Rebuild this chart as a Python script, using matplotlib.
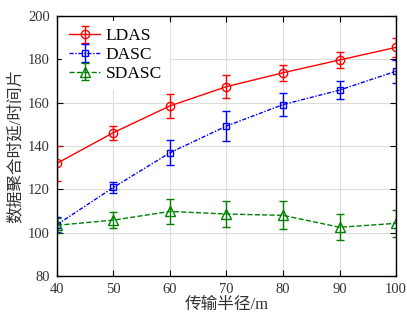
import numpy as np
import matplotlib.pyplot as plt

plt.rcParams['font.family'] = ['Liberation Serif', 'Noto Sans CJK SC']

# data
radius = [40, 50, 60, 70, 80, 90, 100]
ldas = [132.0, 146.2, 158.5, 167.4, 173.8, 179.7, 185.5]
ldas_err = [8.0, 3.2, 5.4, 5.3, 3.6, 3.9, 4.3]
dasc = [103.7, 120.9, 136.9, 149.2, 159.1, 165.8, 174.5]
dasc_err = [3.4, 2.6, 5.7, 7.0, 5.2, 4.3, 5.4]
sdasc = [103.4, 105.8, 109.8, 108.6, 108.0, 102.5, 104.3]
sdasc_err = [3.4, 3.7, 5.8, 5.8, 6.5, 5.9, 6.1]

fig = plt.figure(figsize=(4.07, 3.2), dpi=100)
ax = fig.add_axes([0.140, 0.1375, 0.833, 0.8125])

ax.errorbar(radius, ldas, yerr=ldas_err, color='#ff0000', ls='-', lw=1.0,
            marker='o', ms=6, mfc='none', mew=1.0, capsize=3, elinewidth=1.0,
            label='LDAS')
eb = ax.errorbar(radius, dasc, yerr=dasc_err, color='#0000ff', ls='-.', lw=1.0,
                 marker='s', ms=5, mfc='none', mew=1.0, capsize=3, elinewidth=1.0,
                 label='DASC')
eb[0].set_dashes([3, 1.2, 1, 1.2])
ax.errorbar(radius, sdasc, yerr=sdasc_err, color='#008000', ls='--', lw=1.0,
            marker='^', ms=7, mfc='none', mew=1.0, capsize=3, elinewidth=1.0,
            label='SDASC')

ax.set_xlim(40, 100)
ax.set_ylim(80, 200)
ax.set_xticks(radius)
ax.set_yticks(np.arange(80, 201, 20))
ax.tick_params(direction='in', labelsize=10.5, labelcolor='#333333', length=4,
               top=True, right=True, pad=5)
ax.grid(True, color='#dcdcdc', lw=0.8)
ax.set_axisbelow(True)
for s in ax.spines.values():
    s.set_linewidth(1.0)

ax.set_xlabel('传输半径/m', fontsize=12, color='#333333', labelpad=1)
ax.set_ylabel('数据聚合时延/时间片', fontsize=12, color='#333333', labelpad=3)

leg = ax.legend(loc='upper left', fontsize=12.5, frameon=True, fancybox=False,
                handlelength=1.8, handletextpad=0.3, borderaxespad=0.3,
                labelspacing=0.15)
leg.get_frame().set_edgecolor('white')
leg.get_frame().set_facecolor('white')
leg.get_frame().set_alpha(1.0)

fig.savefig('out.png', dpi=100)
